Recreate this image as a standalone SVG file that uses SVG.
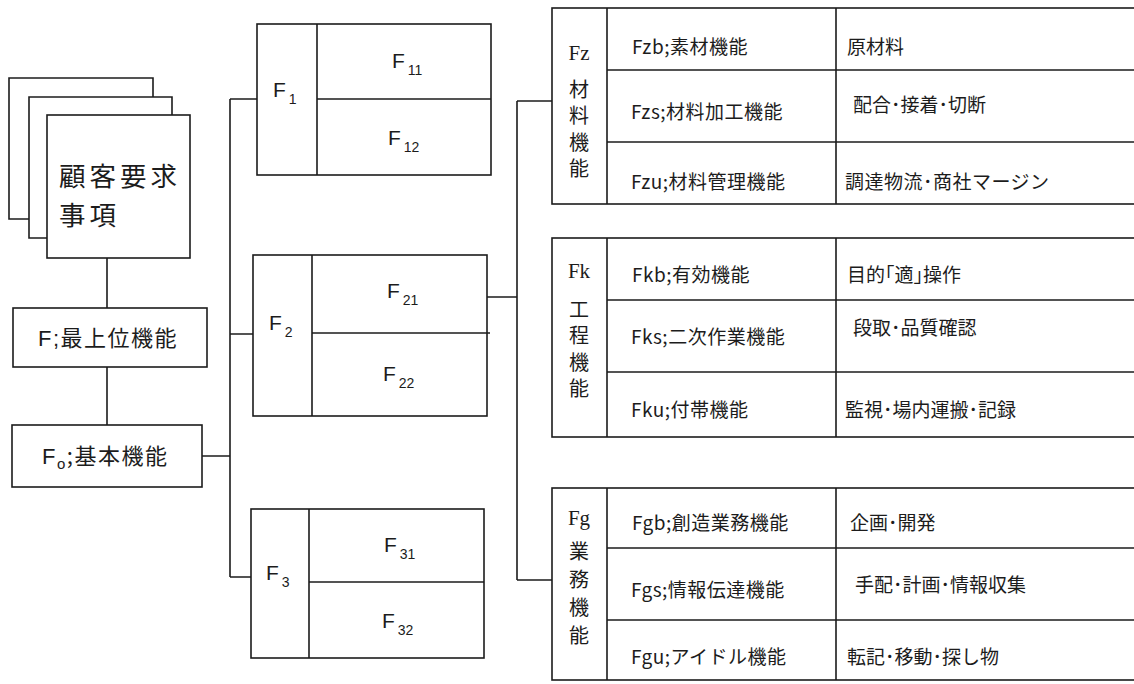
<svg xmlns="http://www.w3.org/2000/svg" width="1134" height="684" viewBox="0 0 1134 684">
<style>
.ln{fill:none;stroke:#1c1c1c;stroke-width:1.6}
.bx{fill:#fff;stroke:#1c1c1c;stroke-width:1.6}
.jp{font-family:"Noto Sans CJK JP","Noto Sans",sans-serif;fill:#1c1c1c}
.t19{font-size:19px}
.lat{font-family:"Liberation Sans",Arial,sans-serif;font-size:21px;fill:#1c1c1c}
.sub{font-size:14px}
.ser{font-family:"Liberation Serif","Times New Roman",serif;font-size:21px;fill:#1c1c1c}
.vt{font-family:"Noto Sans CJK JP",sans-serif;font-size:20px;fill:#1c1c1c;writing-mode:vertical-rl;letter-spacing:6.5px}
</style>
<rect width="1134" height="684" fill="#fff"/>
<g id="connectors">
<path class="ln" d="M107,258V308M107,367V425"/>
<path class="ln" d="M230,99V577M230,99H257M230,334H253M202,456H230M230,577H251"/>
<path class="ln" d="M487,297H517M517,101V580M517,101H552M517,580H552"/>
</g>
<g id="customer">
<path class="ln" d="M29,219H9V78H153V97"/>
<path class="ln" d="M47,238H29V97H172V115"/>
<rect class="bx" x="47" y="115" width="143" height="143"/>
<text class="jp" font-size="26.5" letter-spacing="4"><tspan x="59" y="186">顧客要求</tspan><tspan x="59" y="225">事項</tspan></text>
</g>
<g id="F">
<rect class="bx" x="13" y="308" width="194" height="59"/>
<text class="jp" x="38" y="346" font-size="22" letter-spacing="1.5"><tspan font-family="Liberation Sans">F;</tspan>最上位機能</text>
</g>
<g id="F0">
<rect class="bx" x="12" y="425" width="190" height="62"/>
<text class="jp" x="42" y="464" font-size="22" letter-spacing="1.5"><tspan font-family="Liberation Sans">F</tspan><tspan font-family="Liberation Sans" font-size="15" dy="5">o</tspan><tspan dy="-5">;基本機能</tspan></text>
</g>
<g id="F1">
<rect class="bx" x="257" y="24" width="234" height="151"/>
<path class="ln" d="M317,24V175M317,99H491"/>
<text class="lat" x="273" y="97">F<tspan class="sub" dx="3" dy="7">1</tspan></text>
<text class="lat" x="392" y="68">F<tspan class="sub" dx="3" dy="7">11</tspan></text>
<text class="lat" x="388" y="145">F<tspan class="sub" dx="3" dy="7">12</tspan></text>
</g>
<g id="F2">
<rect class="bx" x="253" y="255" width="234" height="161"/>
<path class="ln" d="M312,255V416M312,333H490"/>
<text class="lat" x="269" y="330">F<tspan class="sub" dx="3" dy="7">2</tspan></text>
<text class="lat" x="387" y="298">F<tspan class="sub" dx="3" dy="7">21</tspan></text>
<text class="lat" x="383" y="381">F<tspan class="sub" dx="3" dy="7">22</tspan></text>
</g>
<g id="F3">
<rect class="bx" x="251" y="509" width="233" height="149"/>
<path class="ln" d="M309,509V658M309,582H484"/>
<text class="lat" x="266" y="580">F<tspan class="sub" dx="3" dy="7">3</tspan></text>
<text class="lat" x="384" y="552">F<tspan class="sub" dx="3" dy="7">31</tspan></text>
<text class="lat" x="382" y="628">F<tspan class="sub" dx="3" dy="7">32</tspan></text>
</g>
<g id="Fz">
<rect class="bx" x="552" y="8" width="600" height="196"/>
<path class="ln" d="M607,8V204M836,8V204M607,70H1140M607,142H1140"/>
<text class="ser" x="579" y="60" text-anchor="middle">Fz</text>
<text class="vt" x="579" y="79">材料機能</text>
<text class="jp t19" x="632" y="54" letter-spacing="0.5">Fzb;素材機能</text>
<text class="jp t19" x="847" y="54">原材料</text>
<text class="jp t19" x="631" y="119" letter-spacing="0.5">Fzs;材料加工機能</text>
<text class="jp t19" x="853" y="112">配合･接着･切断</text>
<text class="jp t19" x="631" y="189" letter-spacing="0.5">Fzu;材料管理機能</text>
<text class="jp t19" x="845" y="189" letter-spacing="0.5">調達物流･商社マージン</text>
</g>
<g id="Fk">
<rect class="bx" x="552" y="238" width="600" height="199"/>
<path class="ln" d="M607,238V437M836,238V437M607,300H1140M607,372H1140"/>
<text class="ser" x="579" y="278" text-anchor="middle">Fk</text>
<text class="vt" x="579" y="299">工程機能</text>
<text class="jp t19" x="632" y="282" letter-spacing="0.5">Fkb;有効機能</text>
<text class="jp t19" x="847" y="282">目的｢適｣操作</text>
<text class="jp t19" x="631" y="344" letter-spacing="0.5">Fks;二次作業機能</text>
<text class="jp t19" x="853" y="335">段取･品質確認</text>
<text class="jp t19" x="631" y="417" letter-spacing="0.5">Fku;付帯機能</text>
<text class="jp t19" x="845" y="417">監視･場内運搬･記録</text>
</g>
<g id="Fg">
<rect class="bx" x="552" y="488" width="600" height="192"/>
<path class="ln" d="M607,488V680M836,488V680M607,548H1140M607,620H1140"/>
<text class="ser" x="579" y="525" text-anchor="middle">Fg</text>
<text class="vt" x="579" y="541" style="letter-spacing:8px">業務機能</text>
<text class="jp t19" x="632" y="530" letter-spacing="0.5">Fgb;創造業務機能</text>
<text class="jp t19" x="850" y="530">企画･開発</text>
<text class="jp t19" x="631" y="597" letter-spacing="0.5">Fgs;情報伝達機能</text>
<text class="jp t19" x="855" y="592">手配･計画･情報収集</text>
<text class="jp t19" x="631" y="664" letter-spacing="0.5">Fgu;アイドル機能</text>
<text class="jp t19" x="847" y="664">転記･移動･探し物</text>
</g>
</svg>
